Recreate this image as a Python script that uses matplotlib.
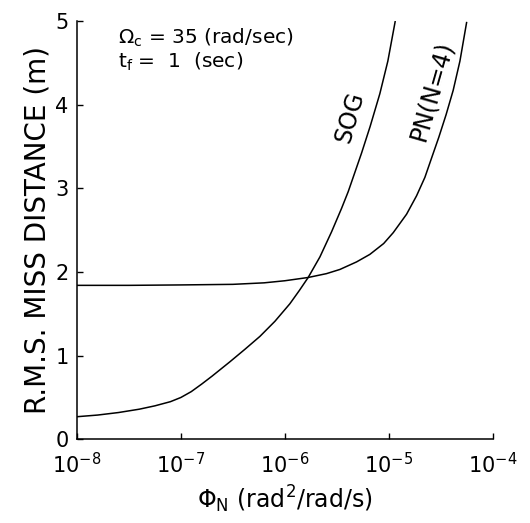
import matplotlib
matplotlib.use("Agg")
import matplotlib.pyplot as plt
import numpy as np

# noise spectral density (log10) and rms miss distance (m)
sog_logphi = [-8.0, -7.8, -7.6, -7.4, -7.25, -7.1, -7.0, -6.9, -6.8, -6.7, -6.53,
              -6.385, -6.24, -6.096, -5.952, -5.86, -5.776, -5.663, -5.551, -5.455,
              -5.391, -5.263, -5.18, -5.087, -5.01, -4.94]
sog_miss = [0.27, 0.29, 0.32, 0.36, 0.40, 0.45, 0.50, 0.57, 0.66, 0.755, 0.925,
            1.075, 1.23, 1.41, 1.62, 1.78, 1.934, 2.18, 2.48, 2.76,
            2.96, 3.42, 3.74, 4.13, 4.52, 4.99]

pn_logphi = [-8.0, -7.5, -7.0, -6.5, -6.2, -6.0, -5.776, -5.6, -5.471, -5.311, -5.183,
             -5.05, -4.958, -4.83, -4.734, -4.654, -4.59, -4.52, -4.45, -4.382, -4.317, -4.253]
pn_miss = [1.84, 1.84, 1.845, 1.852, 1.87, 1.895, 1.934, 1.98, 2.03, 2.12, 2.21,
           2.34, 2.47, 2.69, 2.91, 3.13, 3.36, 3.61, 3.88, 4.17, 4.52, 4.98]

xticks = [1e-8, 1e-7, 1e-6, 1e-5, 1e-4]
xticklabels = ['$10^{-8}$', '$10^{-7}$', '$10^{-6}$', '$10^{-5}$', '$10^{-4}$']
yticks = [0, 1, 2, 3, 4, 5]

plt.rcParams['font.family'] = ['DejaVu Sans']
plt.rcParams['mathtext.fontset'] = 'dejavusans'
plt.rcParams['mathtext.default'] = 'regular'

fig = plt.figure(figsize=(5.30, 5.23), dpi=100)
ax = fig.add_axes([0.145, 0.160, 0.785, 0.800])

ax.plot(10.0 ** np.array(sog_logphi), sog_miss, color='black', linewidth=1.1)
ax.plot(10.0 ** np.array(pn_logphi), pn_miss, color='black', linewidth=1.1)

ax.set_xscale('log')
ax.set_xlim(1e-8, 1e-4)
ax.set_ylim(0, 5)
ax.set_xticks(xticks)
ax.set_xticklabels(xticklabels)
ax.set_yticks(yticks)
ax.minorticks_off()

for s in ['top', 'right']:
    ax.spines[s].set_visible(False)
for s in ['left', 'bottom']:
    ax.spines[s].set_linewidth(1.1)

ax.tick_params(direction='in', length=4, width=1.0, labelsize=15)
ax.tick_params(axis='x', pad=9)
ax.tick_params(axis='y', pad=6)

ax.set_ylabel('R.M.S. MISS DISTANCE (m)', fontsize=20, labelpad=3)
ax.set_xlabel(r'$\Phi_N$ (rad$^2$/rad/s)', fontsize=17, labelpad=5)

ax.text(0.098, 0.985, r'$\Omega_c$ = 35 (rad/sec)', transform=ax.transAxes,
        fontsize=14.5, va='top', ha='left')
ax.text(0.098, 0.930, r'$t_f$ =  1  (sec)', transform=ax.transAxes,
        fontsize=14.5, va='top', ha='left')

ax.text(10 ** -5.37, 3.85, 'SOG', fontsize=17, rotation=74, ha='center', va='center')
ax.text(10 ** -4.587, 4.16, 'PN(N=4)', fontsize=17, rotation=74, ha='center', va='center')

fig.savefig('out.png', dpi=100)
